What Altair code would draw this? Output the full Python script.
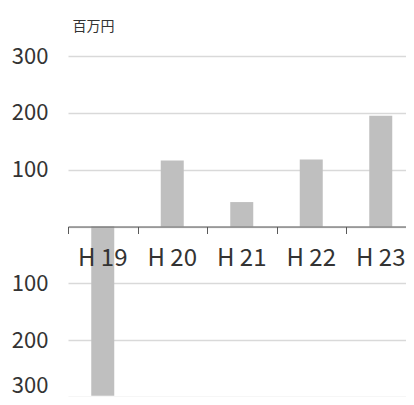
import altair as alt
import pandas as pd

years = ["H 19", "H 20", "H 21", "H 22", "H 23"]
values = [-298, 116, 43, 118, 195]
y_ticks = [-300, -200, -100, 0, 100, 200, 300]

df = pd.DataFrame({
    "year": years,
    "value": values,
    "pos": [i + 0.5 for i in range(len(years))],
})

FONT = "Noto Sans CJK JP"
PLOT_W = 338
STEP = 69.5

x_enc = alt.X(
    "pos:Q",
    scale=alt.Scale(domain=[0, PLOT_W / STEP], nice=False, zero=False, padding=0),
    axis=alt.Axis(
        title=None,
        values=list(range(len(years))),
        labels=False,
        orient="bottom",
        offset=-170.5,
        zindex=1,
        domainColor="#595959",
        domainWidth=1,
        tickColor="#595959",
        tickSize=7,
        grid=False,
    ),
)

y_enc = alt.Y(
    "value:Q",
    scale=alt.Scale(domain=[-300, 300], nice=False),
    axis=alt.Axis(
        values=y_ticks,
        labelExpr="datum.value == 0 ? '' : format(abs(datum.value), 'd')",
        labelFontSize=22,
        labelColor="#333333",
        labelFont=FONT,
        labelPadding=20,
        labelOffset={"condition": {"test": "datum.value == -300", "value": -12}, "value": 0},
        domain=False,
        ticks=False,
        grid=True,
        gridColor="#d9d9d9",
        gridWidth=1.5,
        title="百万円",
        titleAngle=0,
        titleAlign="left",
        titleBaseline="middle",
        titleX=4,
        titleY=-30,
        titleFontSize=14,
        titleFontWeight="normal",
        titleColor="#333333",
        titleFont=FONT,
    ),
)

bars = alt.Chart(df).mark_bar(color="#bfbfbf", size=23).encode(x=x_enc, y=y_enc)

labels = alt.Chart(df).mark_text(
    font=FONT, fontSize=24, color="#333333", baseline="middle", align="center", dy=32
).encode(x=x_enc, y=alt.datum(0), text="year:N")

chart = alt.layer(bars, labels).properties(
    width=PLOT_W,
    height=341,
    autosize=alt.AutoSizeParams(type="none"),
    padding={"left": 60, "top": 48, "right": 0, "bottom": 0},
).configure_view(stroke=None)

chart.save("out.html", embed_options={"renderer": "svg", "actions": False})
